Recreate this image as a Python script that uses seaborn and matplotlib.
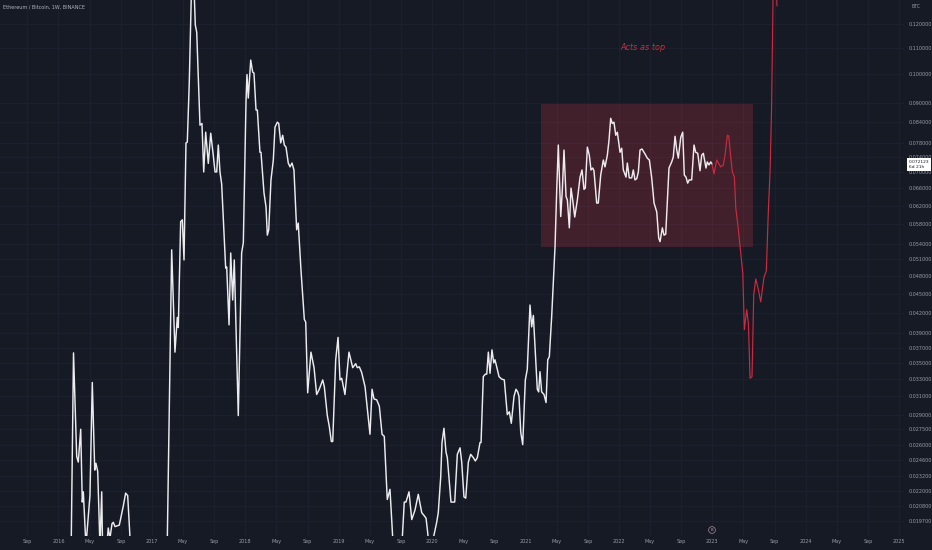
import pandas as pd
import seaborn as sns
import matplotlib.pyplot as plt
from matplotlib.patches import Rectangle
from matplotlib.ticker import FixedLocator, FixedFormatter, NullLocator

# ETH/BTC weekly closes (decimal year, price in BTC)
eth_years = [
    2015.60, 2015.80, 2015.95, 2016.05, 2016.10, 2016.132, 2016.161, 2016.195, 2016.212, 2016.238,
    2016.255, 2016.266, 2016.294, 2016.337, 2016.362, 2016.388, 2016.401, 2016.420, 2016.444, 2016.463,
    2016.473, 2016.503, 2016.533, 2016.551, 2016.573, 2016.587, 2016.605, 2016.651, 2016.694, 2016.719,
    2016.741, 2016.766, 2016.82, 2016.93, 2017.03, 2017.12, 2017.156, 2017.183, 2017.212, 2017.247,
    2017.272, 2017.283, 2017.308, 2017.326, 2017.344, 2017.365, 2017.379, 2017.400, 2017.423, 2017.442,
    2017.465, 2017.480, 2017.515, 2017.536, 2017.555, 2017.576, 2017.604, 2017.630, 2017.657, 2017.676,
    2017.694, 2017.711, 2017.729, 2017.747, 2017.790, 2017.801, 2017.826, 2017.844, 2017.865, 2017.882,
    2017.925, 2017.961, 2017.979, 2018.008, 2018.018, 2018.032, 2018.058, 2018.079, 2018.093, 2018.115,
    2018.129, 2018.157, 2018.168, 2018.200, 2018.222, 2018.236, 2018.251, 2018.275, 2018.300, 2018.318,
    2018.343, 2018.358, 2018.379, 2018.400, 2018.418, 2018.436, 2018.460, 2018.479, 2018.500, 2018.521,
    2018.550, 2018.567, 2018.596, 2018.632, 2018.647, 2018.668, 2018.703, 2018.736, 2018.764, 2018.792,
    2018.829, 2018.846, 2018.878, 2018.899, 2018.921, 2018.936, 2018.968, 2018.993, 2019.014, 2019.032,
    2019.067, 2019.110, 2019.150, 2019.182, 2019.199, 2019.221, 2019.246, 2019.282, 2019.335, 2019.357,
    2019.378, 2019.407, 2019.435, 2019.464, 2019.488, 2019.520, 2019.549, 2019.585, 2019.621, 2019.656,
    2019.678, 2019.702, 2019.720, 2019.753, 2019.782, 2019.817, 2019.852, 2019.889, 2019.913, 2019.935,
    2019.949, 2019.967, 2019.988, 2020.013, 2020.049, 2020.066, 2020.092, 2020.106, 2020.127, 2020.149,
    2020.163, 2020.202, 2020.220, 2020.242, 2020.270, 2020.299, 2020.317, 2020.341, 2020.360, 2020.388,
    2020.413, 2020.441, 2020.463, 2020.484, 2020.513, 2020.524, 2020.548, 2020.570, 2020.585, 2020.602,
    2020.620, 2020.641, 2020.660, 2020.673, 2020.698, 2020.716, 2020.745, 2020.773, 2020.805, 2020.827,
    2020.848, 2020.877, 2020.898, 2020.916, 2020.930, 2020.949, 2020.970, 2020.998, 2021.019, 2021.048,
    2021.066, 2021.084, 2021.105, 2021.126, 2021.141, 2021.155, 2021.173, 2021.198, 2021.220, 2021.238,
    2021.255, 2021.280, 2021.316, 2021.334, 2021.351, 2021.377, 2021.394, 2021.412, 2021.434, 2021.448,
    2021.469, 2021.487, 2021.505, 2021.527, 2021.555, 2021.584, 2021.605, 2021.626, 2021.640, 2021.662,
    2021.683, 2021.701, 2021.720, 2021.733, 2021.762, 2021.779, 2021.805, 2021.833, 2021.851, 2021.876,
    2021.894, 2021.912, 2021.929, 2021.947, 2021.966, 2021.983, 2022.012, 2022.030, 2022.047, 2022.076,
    2022.090, 2022.111, 2022.137, 2022.154, 2022.172, 2022.191, 2022.208, 2022.226, 2022.247, 2022.280,
    2022.304, 2022.326, 2022.351, 2022.376, 2022.405, 2022.426, 2022.440, 2022.465, 2022.483, 2022.501,
    2022.518, 2022.536, 2022.565, 2022.582, 2022.601, 2022.619, 2022.636, 2022.662, 2022.683, 2022.700,
    2022.718, 2022.736, 2022.753, 2022.779, 2022.804, 2022.822, 2022.844, 2022.868, 2022.886, 2022.904,
    2022.932, 2022.946, 2022.964, 2022.983, 2022.997,
]
eth_btc = [
    0.0030, 0.0025, 0.0023, 0.0045, 0.0090, 0.0160, 0.0363, 0.0249, 0.0244, 0.0275,
    0.0211, 0.0219, 0.0180, 0.0216, 0.0326, 0.0237, 0.0243, 0.0236, 0.0180, 0.0219,
    0.0175, 0.0170, 0.0192, 0.0185, 0.0195, 0.0196, 0.0193, 0.0194, 0.0208, 0.0218,
    0.0216, 0.0185, 0.0160, 0.0135, 0.0115, 0.0125, 0.0150, 0.0274, 0.0528, 0.0364,
    0.0413, 0.0398, 0.0585, 0.0589, 0.0509, 0.0779, 0.0781, 0.0967, 0.1350, 0.1500,
    0.1196, 0.1165, 0.0831, 0.0836, 0.0701, 0.0810, 0.0723, 0.0807, 0.0745, 0.0701,
    0.0701, 0.0773, 0.0701, 0.0671, 0.0494, 0.0496, 0.0402, 0.0522, 0.0440, 0.0509,
    0.0289, 0.0522, 0.0542, 0.0910, 0.0999, 0.0917, 0.1053, 0.1008, 0.1004, 0.0878,
    0.0878, 0.0753, 0.0753, 0.0650, 0.0617, 0.0557, 0.0568, 0.0681, 0.0732, 0.0825,
    0.0840, 0.0836, 0.0779, 0.0801, 0.0773, 0.0767, 0.0724, 0.0714, 0.0724, 0.0706,
    0.0568, 0.0582, 0.0491, 0.0410, 0.0406, 0.0314, 0.0364, 0.0344, 0.0312, 0.0318,
    0.0329, 0.0321, 0.0289, 0.0278, 0.0263, 0.0263, 0.0354, 0.0384, 0.0329, 0.0331,
    0.0312, 0.0364, 0.0344, 0.0349, 0.0344, 0.0345, 0.0338, 0.0321, 0.0270, 0.0318,
    0.0307, 0.0306, 0.0299, 0.0270, 0.0268, 0.0213, 0.0221, 0.0178, 0.0175, 0.0176,
    0.0182, 0.0211, 0.0211, 0.0219, 0.0198, 0.0205, 0.0217, 0.0203, 0.0201, 0.0199,
    0.0191, 0.0180, 0.0178, 0.0185, 0.0196, 0.0203, 0.0231, 0.0262, 0.0276, 0.0253,
    0.0248, 0.0211, 0.0211, 0.0211, 0.0251, 0.0257, 0.0244, 0.0215, 0.0214, 0.0244,
    0.0251, 0.0248, 0.0245, 0.0248, 0.0262, 0.0262, 0.0333, 0.0336, 0.0336, 0.0364,
    0.0337, 0.0367, 0.0350, 0.0354, 0.0342, 0.0333, 0.0330, 0.0329, 0.0290, 0.0293,
    0.0281, 0.0310, 0.0318, 0.0315, 0.0310, 0.0272, 0.0260, 0.0329, 0.0342, 0.0432,
    0.0399, 0.0416, 0.0363, 0.0318, 0.0315, 0.0339, 0.0315, 0.0312, 0.0303, 0.0354,
    0.0358, 0.0414, 0.0534, 0.0656, 0.0773, 0.0596, 0.0656, 0.0759, 0.0641, 0.0633,
    0.0572, 0.0661, 0.0633, 0.0595, 0.0633, 0.0688, 0.0706, 0.0658, 0.0661, 0.0767,
    0.0745, 0.0706, 0.0711, 0.0704, 0.0626, 0.0626, 0.0693, 0.0732, 0.0714, 0.0745,
    0.0787, 0.0852, 0.0836, 0.0840, 0.0801, 0.0810, 0.0753, 0.0764, 0.0706, 0.0688,
    0.0724, 0.0686, 0.0686, 0.0706, 0.0681, 0.0684, 0.0701, 0.0759, 0.0762, 0.0748,
    0.0737, 0.0732, 0.0686, 0.0626, 0.0606, 0.0551, 0.0544, 0.0572, 0.0557, 0.0559,
    0.0626, 0.0711, 0.0727, 0.0740, 0.0798, 0.0759, 0.0737, 0.0795, 0.0810, 0.0693,
    0.0688, 0.0673, 0.0681, 0.0681, 0.0773, 0.0753, 0.0750, 0.0704, 0.0745, 0.0750,
    0.0711, 0.0727, 0.0719, 0.0727, 0.0721,
]

# projected path (red)
proj_years = [
    2022.997, 2023.018, 2023.047, 2023.072, 2023.090, 2023.118, 2023.136, 2023.161, 2023.176, 2023.195,
    2023.214, 2023.236, 2023.251, 2023.279, 2023.304, 2023.326, 2023.343, 2023.368, 2023.386, 2023.404,
    2023.425, 2023.443, 2023.465, 2023.493, 2023.518, 2023.553, 2023.578, 2023.600, 2023.618, 2023.634,
    2023.650, 2023.671, 2023.693,
]
proj_btc = [
    0.0721, 0.0696, 0.0732, 0.0721, 0.0714, 0.0719, 0.0745, 0.0801, 0.0799, 0.0745,
    0.0701, 0.0688, 0.0615, 0.0568, 0.0522, 0.0485, 0.0395, 0.0425, 0.0404, 0.0331,
    0.0333, 0.0448, 0.0475, 0.0457, 0.0437, 0.0478, 0.0489, 0.0610, 0.0701, 0.0878,
    0.1320, 0.1450, 0.1282,
]

# "acts as top" zone
zone_start, zone_end = 2021.166, 2023.432
zone_low, zone_high = 0.0534, 0.0897

last_price = 0.072123
last_countdown = '6d 21h'

price_ticks = [0.0197, 0.0208, 0.022, 0.0232, 0.0246, 0.026, 0.0275, 0.029, 0.031, 0.033,
               0.035, 0.037, 0.039, 0.042, 0.045, 0.048, 0.051, 0.054, 0.058, 0.062,
               0.066, 0.070, 0.074, 0.078, 0.084, 0.090, 0.100, 0.110, 0.120]

time_ticks = [2015.667, 2016.0, 2016.333, 2016.667, 2017.0, 2017.333, 2017.667, 2018.0, 2018.333,
              2018.667, 2019.0, 2019.333, 2019.667, 2020.0, 2020.333, 2020.667, 2021.0, 2021.333,
              2021.667, 2022.0, 2022.333, 2022.667, 2023.0, 2023.333, 2023.667, 2024.0, 2024.333,
              2024.667, 2025.0]
time_labels = ['Sep', '2016', 'May', 'Sep', '2017', 'May', 'Sep', '2018', 'May',
               'Sep', '2019', 'May', 'Sep', '2020', 'May', 'Sep', '2021', 'May',
               'Sep', '2022', 'May', 'Sep', '2023', 'May', 'Sep', '2024', 'May',
               'Sep', '2025']

bg = '#161a25'
grid = '#1e2230'
label_color = '#9a9da6'
red = '#cc2a40'

sns.set_style('dark', {'axes.facecolor': bg, 'figure.facecolor': bg})
plt.rcParams['font.family'] = ['DejaVu Sans']

fig = plt.figure(figsize=(9.32, 5.5), dpi=100)
ax = fig.add_axes([0, 14 / 550, 904 / 932, 536 / 550])

hist = pd.DataFrame({'year': eth_years, 'btc': eth_btc})
proj = pd.DataFrame({'year': proj_years, 'btc': proj_btc})

ax.add_patch(Rectangle((zone_start, zone_low), zone_end - zone_start, zone_high - zone_low,
                       facecolor='#f23645', alpha=0.2, edgecolor='none', zorder=1))

sns.lineplot(data=hist, x='year', y='btc', ax=ax, color='#ececee', linewidth=1.05,
             sort=False, estimator=None, zorder=3)
sns.lineplot(data=proj, x='year', y='btc', ax=ax, color=red, linewidth=0.85,
             sort=False, estimator=None, zorder=3)

ax.set_yscale('log')
ax.set_xlim(2015.374, 2025.052)
ax.set_ylim(0.01865, 0.131)

ax.yaxis.tick_right()
ax.yaxis.set_major_locator(FixedLocator(price_ticks))
ax.yaxis.set_major_formatter(FixedFormatter([f'{p:.6f}' for p in price_ticks]))
ax.yaxis.set_minor_locator(NullLocator())
ax.xaxis.set_major_locator(FixedLocator(time_ticks))
ax.xaxis.set_major_formatter(FixedFormatter(time_labels))
ax.xaxis.set_minor_locator(NullLocator())
ax.tick_params(axis='y', length=0, pad=3.2, labelsize=3.5, labelcolor=label_color)
ax.tick_params(axis='x', length=0, pad=2.2, labelsize=3.5, labelcolor=label_color)
ax.set_xlabel('')
ax.set_ylabel('')
ax.grid(True, color=grid, linewidth=0.6)
ax.set_axisbelow(True)
for s in ax.spines.values():
    s.set_visible(False)

ax.text(2022.258, 0.1102, 'Acts as top', color=red, fontsize=6.5, style='italic',
        fontweight='medium', fontstretch='condensed', ha='center', va='center')

ax.text(1.005, last_price, f'{last_price:.6f}\n{last_countdown}', transform=ax.get_yaxis_transform(),
        ha='left', va='center', fontsize=3.2, color='#131722', linespacing=1.3, clip_on=False,
        zorder=10, bbox=dict(boxstyle='square,pad=0.45', facecolor='white', edgecolor='none'))

fig.text(3 / 932, 1 - 7 / 550, 'Ethereum / Bitcoin, 1W, BINANCE', fontsize=3.5,
         color='#b2b5be', ha='left', va='center')
fig.text(912 / 932, 1 - 7 / 550, 'BTC', fontsize=3.3, color=label_color, ha='left', va='center')
fig.text(712 / 932, 1 - 530 / 550, 'B', fontsize=2.8, color='#c9a3b6', ha='center', va='center',
         bbox=dict(boxstyle='circle,pad=0.35', facecolor=bg, edgecolor='#b58aa0', linewidth=0.5))

fig.savefig('out.png', dpi=100, facecolor=bg)
